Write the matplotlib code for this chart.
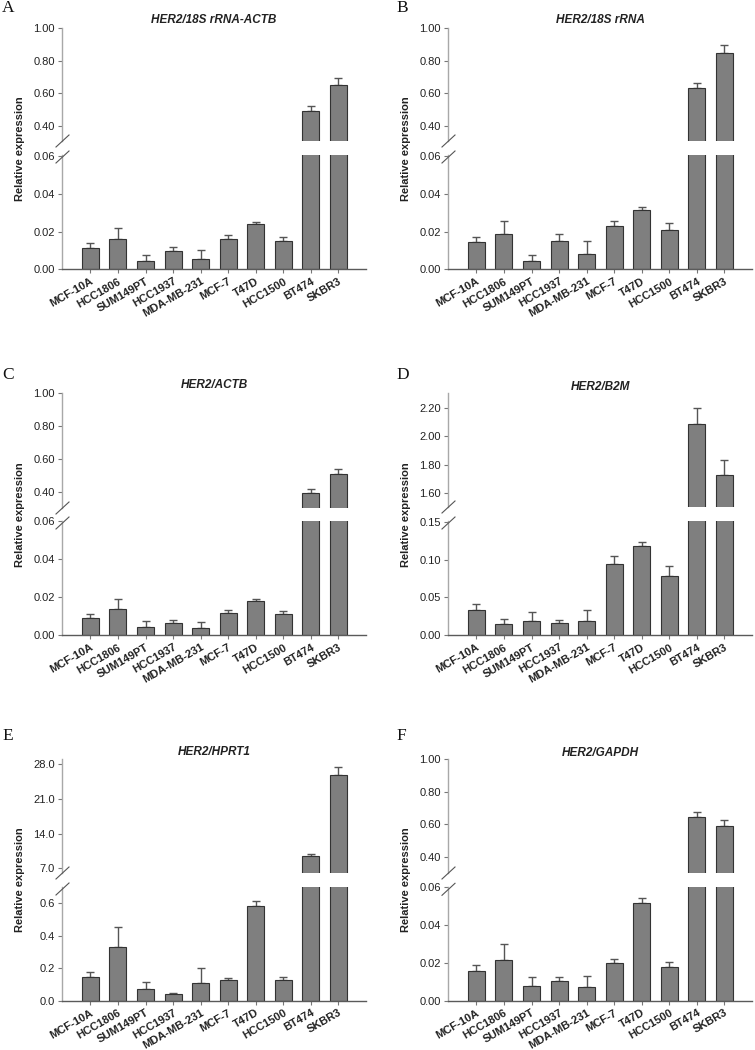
import numpy as np
import matplotlib
matplotlib.use("Agg")
from matplotlib import pyplot as plt
from matplotlib.lines import Line2D
from matplotlib.ticker import FormatStrFormatter

plt.rcParams["font.family"] = ["Liberation Sans", "DejaVu Sans"]

CELL_LINES = ["MCF-10A", "HCC1806", "SUM149PT", "HCC1937", "MDA-MB-231",
              "MCF-7", "T47D", "HCC1500", "BT474", "SKBR3"]

# mean and SD per panel
a_vals = [0.0112, 0.0160, 0.0044, 0.0097, 0.0056, 0.0163, 0.0239, 0.0150, 0.492, 0.651]
a_sd = [0.0026, 0.0061, 0.0030, 0.0023, 0.0045, 0.0017, 0.0011, 0.0023, 0.031, 0.041]
b_vals = [0.0144, 0.0186, 0.0046, 0.0151, 0.0081, 0.0229, 0.0314, 0.0209, 0.630, 0.846]
b_sd = [0.0029, 0.0071, 0.0030, 0.0035, 0.0070, 0.0026, 0.0016, 0.0036, 0.035, 0.051]
c_vals = [0.0089, 0.0137, 0.0044, 0.0063, 0.0040, 0.0116, 0.0182, 0.0110, 0.394, 0.508]
c_sd = [0.0022, 0.0052, 0.0031, 0.0016, 0.0032, 0.0016, 0.0009, 0.0020, 0.020, 0.031]
d_vals = [0.0333, 0.0149, 0.0192, 0.0166, 0.0188, 0.0947, 0.1175, 0.0790, 2.086, 1.726]
d_sd = [0.0075, 0.0061, 0.0118, 0.0039, 0.0145, 0.0103, 0.0057, 0.0122, 0.110, 0.107]
e_vals = [0.144, 0.329, 0.070, 0.041, 0.107, 0.127, 0.585, 0.127, 9.48, 25.85]
e_sd = [0.031, 0.123, 0.047, 0.008, 0.093, 0.013, 0.027, 0.021, 0.40, 1.61]
f_vals = [0.0156, 0.0215, 0.0078, 0.0103, 0.0071, 0.0198, 0.0519, 0.0177, 0.643, 0.589]
f_sd = [0.0035, 0.0083, 0.0049, 0.0024, 0.0061, 0.0023, 0.0026, 0.0029, 0.035, 0.037]

titles = ["HER2/18S rRNA-ACTB", "HER2/18S rRNA", "HER2/ACTB",
          "HER2/B2M", "HER2/HPRT1", "HER2/GAPDH"]
letters = ["A", "B", "C", "D", "E", "F"]

std_upper = [0.40, 0.60, 0.80, 1.00]
std_lower = [0.00, 0.02, 0.04, 0.06]

W, H = 755, 1050
fig = plt.figure(figsize=(W / 100, H / 100), dpi=100)

SPINE_L = "#a8a8a8"
SPINE_B = "#5a5a5a"
TXT = "#222222"


def px_axes(x0, x1, ytop, ybot):
    return fig.add_axes([x0 / W, 1 - ybot / H, (x1 - x0) / W, (ybot - ytop) / H])


def style(ax, ticks, fmt, lim, bottom):
    ax.set_ylim(*lim)
    ax.set_yticks(ticks)
    ax.yaxis.set_major_formatter(FormatStrFormatter(fmt))
    ax.set_xlim(-1.03, 10.0)
    for s in ["top", "right"]:
        ax.spines[s].set_visible(False)
    ax.spines["left"].set_color(SPINE_L)
    ax.spines["left"].set_linewidth(1.0)
    ax.tick_params(axis="y", length=3, width=0.8, color="#777777",
                   labelsize=8, labelcolor=TXT, pad=2)
    if bottom:
        ax.spines["bottom"].set_color(SPINE_B)
        ax.spines["bottom"].set_linewidth(1.0)
        ax.set_xticks(np.arange(len(CELL_LINES)))
        ax.set_xticklabels(CELL_LINES, rotation=30, ha="right",
                           rotation_mode="anchor", fontsize=8,
                           fontweight="bold", color=TXT)
        ax.tick_params(axis="x", length=3, width=0.8, color="#777777", pad=2)
    else:
        ax.spines["bottom"].set_visible(False)
        ax.set_xticks([])


def draw_bars(ax, vals, sd):
    x = np.arange(len(vals))
    ax.bar(x, vals, width=0.62, color="#7f7f7f", edgecolor="#333333",
           linewidth=0.8, zorder=2)
    ax.errorbar(x, vals, yerr=[np.zeros(len(sd)), sd], fmt="none",
                ecolor="#555555", elinewidth=1.0, capsize=3, capthick=1.0,
                zorder=1)


def slash(xc, yc):
    fig.add_artist(Line2D([(xc - 6) / W, (xc + 7) / W],
                          [1 - (yc + 6) / H, 1 - (yc - 6) / H],
                          color="#555555", lw=0.8))


# panel layout in pixels: x0, x1, upper (top, bottom), lower (top, bottom)
panels = [
    dict(vals=a_vals, sd=a_sd, x=(62, 366), up=(28.3, 141), lo=(155, 269.3),
         uplim=(0.306, 1.0), lolim=(0, 0.0605), upt=std_upper, lot=std_lower,
         fmt="%.2f", title_y=20, letter=(8, 8)),
    dict(vals=b_vals, sd=b_sd, x=(448, 752), up=(28.3, 141), lo=(155, 269.3),
         uplim=(0.306, 1.0), lolim=(0, 0.0605), upt=std_upper, lot=std_lower,
         fmt="%.2f", title_y=20, letter=(402, 8)),
    dict(vals=c_vals, sd=c_sd, x=(62, 366), up=(393.3, 508), lo=(521, 635.3),
         uplim=(0.30, 1.0), lolim=(0, 0.06), upt=std_upper, lot=std_lower,
         fmt="%.2f", title_y=385, letter=(8, 375)),
    dict(vals=d_vals, sd=d_sd, x=(448, 752), up=(393, 507), lo=(521, 635.3),
         uplim=(1.504, 2.303), lolim=(0, 0.151), upt=[1.6, 1.8, 2.0, 2.2],
         lot=[0.0, 0.05, 0.10, 0.15], fmt="%.2f", title_y=387, letter=(403, 375)),
    dict(vals=e_vals, sd=e_sd, x=(62, 366), up=(759, 873), lo=(887, 1000.7),
         uplim=(6.05, 29.0), lolim=(0, 0.70), upt=[7, 14, 21, 28],
         lot=[0.0, 0.2, 0.4, 0.6], fmt="%.1f", title_y=752, letter=(8, 736)),
    dict(vals=f_vals, sd=f_sd, x=(448, 752), up=(759.3, 873), lo=(887.3, 1000.7),
         uplim=(0.30, 1.0), lolim=(0, 0.06), upt=std_upper, lot=std_lower,
         fmt="%.2f", title_y=753, letter=(401, 736)),
]

for i, p in enumerate(panels):
    x0, x1 = p["x"]
    ax_up = px_axes(x0, x1, *p["up"])
    ax_lo = px_axes(x0, x1, *p["lo"])
    for ax in (ax_up, ax_lo):
        draw_bars(ax, p["vals"], p["sd"])
    style(ax_up, p["upt"], p["fmt"], p["uplim"], bottom=False)
    style(ax_lo, p["lot"], p["fmt"], p["lolim"], bottom=True)

    slash(x0, p["up"][1])
    slash(x0, p["lo"][0] + 2)

    fig.text((x0 + x1) / 2 / W, 1 - p["title_y"] / H, titles[i],
             ha="center", va="center", fontsize=8.5, fontweight="bold",
             style="italic", color=TXT)
    ymid = (p["up"][0] + p["lo"][1]) / 2
    fig.text((x0 - 42) / W, 1 - ymid / H, "Relative expression",
             rotation=90, ha="center", va="center", fontsize=8,
             fontweight="bold", color=TXT)
    lx, ly = p["letter"]
    fig.text(lx / W, 1 - ly / H, letters[i], ha="center", va="center",
             fontsize=12.5, family="Liberation Serif", color="#111111")

fig.savefig("out.png", dpi=100)
